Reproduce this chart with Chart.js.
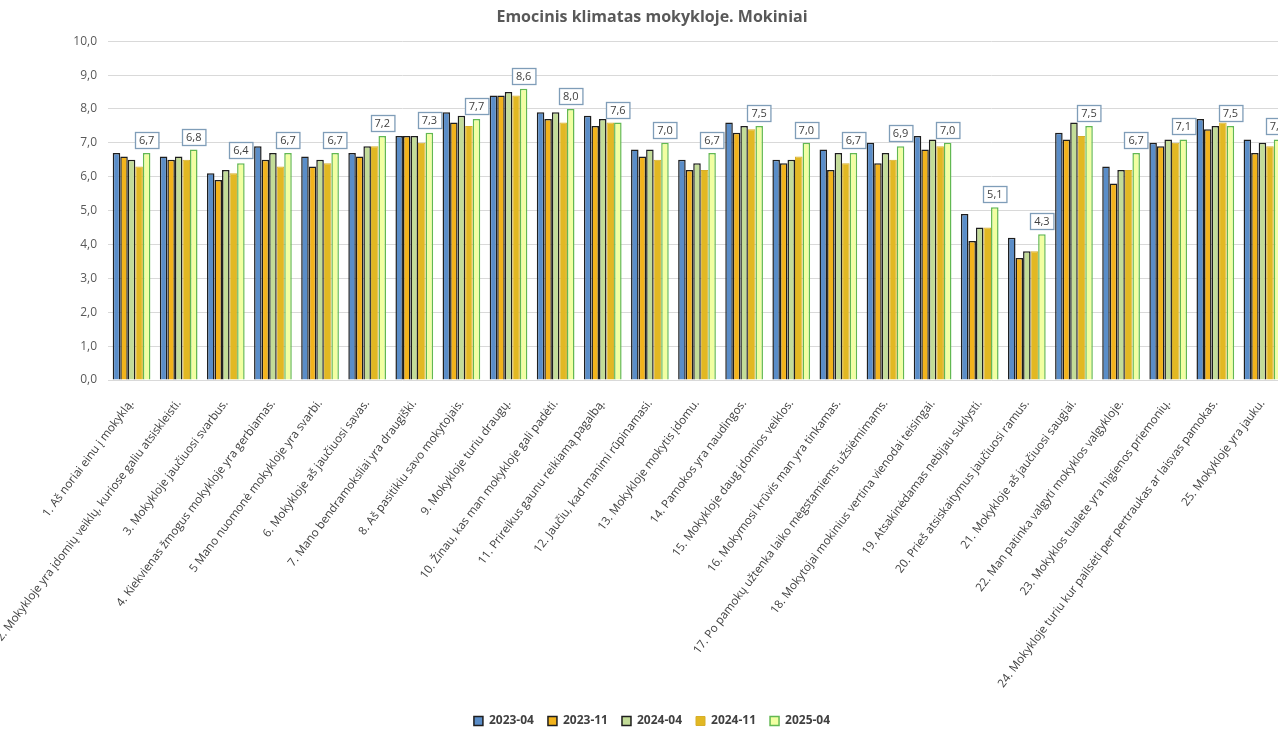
<!DOCTYPE html>
<html>
<head>
<meta charset="utf-8">
<script src="https://cdn.jsdelivr.net/npm/chart.js@4.4.1/dist/chart.umd.min.js"></script>
<style>
html, body { margin: 0; padding: 0; overflow: hidden; background: #fff; }
</style>
</head>
<body>
<canvas id="dataChart" width="1304" height="729"></canvas>
<script>
var categories = [
    '1. Aš noriai einu į mokyklą.',
    '2. Mokykloje yra įdomių veiklų, kuriose galiu atsiskleisti.',
    '3. Mokykloje jaučiuosi svarbus.',
    '4. Kiekvienas žmogus mokykloje yra gerbiamas.',
    '5 Mano nuomonė mokykloje yra svarbi.',
    '6. Mokykloje aš jaučiuosi savas.',
    '7. Mano bendramoksliai yra draugiški.',
    '8. Aš pasitikiu savo mokytojais.',
    '9. Mokykloje turiu draugų.',
    '10. Žinau, kas man mokykloje gali padėti.',
    '11. Prireikus gaunu reikiamą pagalbą.',
    '12. Jaučiu, kad manimi rūpinamasi.',
    '13. Mokykloje mokytis įdomu.',
    '14. Pamokos yra naudingos.',
    '15. Mokykloje daug įdomios veiklos.',
    '16. Mokymosi krūvis man yra tinkamas.',
    '17. Po pamokų užtenka laiko mėgstamiems užsiėmimams.',
    '18. Mokytojai mokinius vertina vienodai teisingai.',
    '19. Atsakinėdamas nebijau suklysti.',
    '20. Prieš atsiskaitymus jaučiuosi ramus.',
    '21. Mokykloje aš jaučiuosi saugiai.',
    '22. Man patinka valgyti mokyklos valgykloje.',
    '23. Mokyklos tualete yra higienos priemonių.',
    '24. Mokykloje turiu kur pailsėti per pertraukas ar laisvas pamokas.',
    '25. Mokykloje yra jauku.'
];

var seriesNames = ['2023-04', '2023-11', '2024-04', '2024-11', '2025-04'];

var v2023_04 = [6.7, 6.6, 6.1, 6.9, 6.6, 6.7, 7.2, 7.9, 8.4, 7.9, 7.8, 6.8, 6.5, 7.6, 6.5, 6.8, 7.0, 7.2, 4.9, 4.2, 7.3, 6.3, 7.0, 7.7, 7.1];
var v2023_11 = [6.6, 6.5, 5.9, 6.5, 6.3, 6.6, 7.2, 7.6, 8.4, 7.7, 7.5, 6.6, 6.2, 7.3, 6.4, 6.2, 6.4, 6.8, 4.1, 3.6, 7.1, 5.8, 6.9, 7.4, 6.7];
var v2024_04 = [6.5, 6.6, 6.2, 6.7, 6.5, 6.9, 7.2, 7.8, 8.5, 7.9, 7.7, 6.8, 6.4, 7.5, 6.5, 6.7, 6.7, 7.1, 4.5, 3.8, 7.6, 6.2, 7.1, 7.5, 7.0];
var v2024_11 = [6.3, 6.5, 6.1, 6.3, 6.4, 6.9, 7.0, 7.5, 8.4, 7.6, 7.6, 6.5, 6.2, 7.4, 6.6, 6.4, 6.5, 6.9, 4.5, 3.8, 7.2, 6.2, 7.0, 7.6, 6.9];
var v2025_04 = [6.7, 6.8, 6.4, 6.7, 6.7, 7.2, 7.3, 7.7, 8.6, 8.0, 7.6, 7.0, 6.7, 7.5, 7.0, 6.7, 6.9, 7.0, 5.1, 4.3, 7.5, 6.7, 7.1, 7.5, 7.1];

var yTicks = [0, 1, 2, 3, 4, 5, 6, 7, 8, 9, 10];

function fmt(v) {
    return v.toFixed(1).replace('.', ',');
}

// boxed value labels above the last series
var valueBoxes = {
    id: 'valueBoxes',
    afterDatasetsDraw: function(chart) {
        var ctx = chart.ctx;
        var meta = chart.getDatasetMeta(4);
        var data = chart.data.datasets[4].data;
        ctx.save();
        ctx.font = '11px "Open Sans"';
        meta.data.forEach(function(bar, i) {
            var txt = fmt(data[i]);
            var w = ctx.measureText(txt).width + 8;
            var h = 16;
            var x = Math.round(bar.x - w / 2) + 0.5;
            var y = Math.round(bar.y - 5 - h) + 0.5;
            ctx.fillStyle = '#ffffff';
            ctx.fillRect(x, y, w, h);
            ctx.strokeStyle = '#7f9db8';
            ctx.lineWidth = 1.3;
            ctx.strokeRect(x, y, w, h);
            ctx.fillStyle = '#404040';
            ctx.textAlign = 'center';
            ctx.textBaseline = 'middle';
            ctx.fillText(txt, bar.x, y + h / 2 + 0.5);
        });
        ctx.restore();
    }
};

var ctx = document.getElementById('dataChart').getContext('2d');

var myChart = new Chart(ctx, {
    type: 'bar',
    data: {
        labels: categories,
        datasets: [
            {
                label: seriesNames[0],
                data: v2023_04,
                backgroundColor: '#5a8dc8',
                borderColor: '#1e1e1e',
                borderWidth: 1.5
            },
            {
                label: seriesNames[1],
                data: v2023_11,
                backgroundColor: '#f2b31c',
                borderColor: '#1e1e1e',
                borderWidth: 1.5
            },
            {
                label: seriesNames[2],
                data: v2024_04,
                backgroundColor: '#c3dc98',
                borderColor: '#1e1e1e',
                borderWidth: 1.5
            },
            {
                label: seriesNames[3],
                data: v2024_11,
                backgroundColor: '#e2b823',
                borderColor: '#d6ae2a',
                borderWidth: 1
            },
            {
                label: seriesNames[4],
                data: v2025_04,
                backgroundColor: '#f2ffa2',
                borderColor: '#62b852',
                borderWidth: 1.5
            }
        ]
    },
    options: {
        responsive: false,
        animation: false,
        layout: { padding: { left: 0, right: 0, top: 0, bottom: -8 } },
        datasets: {
            bar: { categoryPercentage: 0.8, barPercentage: 1.0 }
        },
        plugins: {
            title: {
                display: true,
                text: 'Emocinis klimatas mokykloje. Mokiniai',
                color: '#595959',
                font: { family: 'Open Sans', size: 16, weight: 'bold' },
                padding: { top: 8, bottom: 14 }
            },
            legend: {
                position: 'bottom',
                labels: {
                    boxWidth: 9,
                    boxHeight: 9,
                    padding: 14,
                    color: '#404040',
                    font: { family: 'Open Sans', size: 12, weight: 'bold' }
                }
            },
            tooltip: { enabled: false }
        },
        scales: {
            x: {
                grid: { display: false },
                border: { display: false },
                ticks: {
                    autoSkip: false,
                    minRotation: 53,
                    maxRotation: 53,
                    padding: 9,
                    color: '#404040',
                    font: { family: 'Open Sans', size: 11.6 }
                },
                afterFit: function(s) { s.height = 321; }
            },
            y: {
                min: 0,
                max: 10,
                afterBuildTicks: function(s) {
                    s.ticks = yTicks.map(function(v) { return { value: v }; });
                },
                grid: { color: '#d9d9d9', drawTicks: false },
                border: { display: false },
                ticks: {
                    padding: 11,
                    color: '#595959',
                    font: { family: 'Open Sans', size: 12 },
                    callback: function(v) { return fmt(v); }
                },
                afterFit: function(s) { s.width = 108; }
            },
            // empty spacer on the right so the plot runs past the window edge
            yRight: {
                position: 'right',
                display: true,
                grid: { display: false },
                border: { display: false },
                ticks: { display: false },
                afterFit: function(s) { s.width = 18; }
            }
        }
    },
    plugins: [valueBoxes]
});
</script>
</body>
</html>
